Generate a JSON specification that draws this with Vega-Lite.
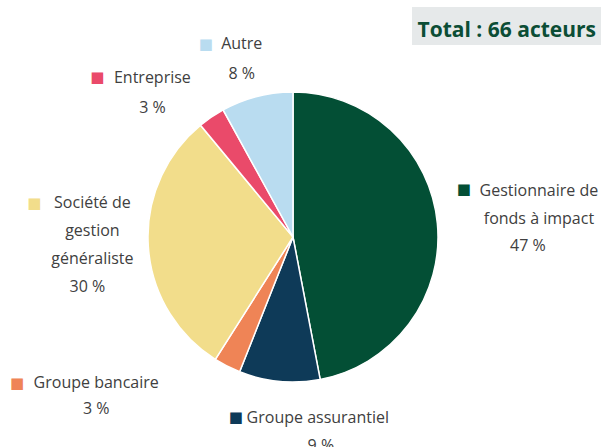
{
  "$schema": "https://vega.github.io/schema/vega-lite/v6.json",
  "width": 586,
  "height": 420,
  "autosize": {"type": "none"},
  "padding": {"left": 0, "top": 27, "right": 17, "bottom": 0},
  "background": "white",
  "config": {
    "view": {"stroke": null},
    "text": {"lineBreak": "\n", "font": "Open Sans", "fontSize": 16, "color": "#404040", "lineHeight": 28},
    "locale": {"number": {"decimal": ",", "thousands": " ", "grouping": [3], "currency": ["", " €"], "percent": " %"}}
  },
  "layer": [
    {
      "data": {"values": [
        {"cat": "Gestionnaire de\nfonds à impact", "share": 0.47},
        {"cat": "Groupe assurantiel", "share": 0.09},
        {"cat": "Groupe bancaire", "share": 0.03},
        {"cat": "Société de\ngestion\ngénéraliste", "share": 0.30},
        {"cat": "Entreprise", "share": 0.03},
        {"cat": "Autre", "share": 0.08}
      ]},
      "transform": [{"window": [{"op": "row_number", "as": "idx"}]}],
      "encoding": {
        "theta": {"field": "share", "type": "quantitative", "stack": true},
        "order": {"field": "idx", "type": "quantitative"}
      },
      "layer": [
        {
          "mark": {"type": "arc", "outerRadius": 145, "stroke": "white", "strokeWidth": 1.5},
          "encoding": {
            "color": {"field": "cat", "type": "nominal", "legend": null,
              "scale": {"domain": ["Gestionnaire de\nfonds à impact", "Groupe assurantiel", "Groupe bancaire", "Société de\ngestion\ngénéraliste", "Entreprise", "Autre"],
                        "range": ["#034f35", "#0e3a58", "#ef8456", "#f2dd8b", "#ea4a6a", "#b9dcf0"]}}
          }
        },
        {"mark": {"type": "text", "radius": 240, "dx": -68, "dy": -25, "align": "center", "baseline": "middle", "font": "DejaVu Sans", "fontSize": 15},
         "encoding": {"color": {"field": "cat", "type": "nominal", "legend": null}, "text": {"condition": {"test": "datum.idx===1", "value": "■"}, "value": ""}}},
        {"mark": {"type": "text", "radius": 240, "dx": 7, "dy": -18, "align": "center", "baseline": "alphabetic"},
         "encoding": {"text": {"condition": {"test": "datum.idx===1", "field": "cat"}, "value": ""}}},
        {"mark": {"type": "text", "radius": 240, "dx": -4, "dy": 37, "align": "center", "baseline": "alphabetic"},
         "encoding": {"text": {"condition": {"test": "datum.idx===1", "field": "share", "type": "quantitative", "format": ".0%"}, "value": ""}}},

        {"mark": {"type": "text", "radius": 193, "dx": -39, "dy": -12, "align": "center", "baseline": "middle", "font": "DejaVu Sans", "fontSize": 15},
         "encoding": {"color": {"field": "cat", "type": "nominal", "legend": null}, "text": {"condition": {"test": "datum.idx===2", "value": "■"}, "value": ""}}},
        {"mark": {"type": "text", "radius": 193, "dx": 43, "dy": -6, "align": "center", "baseline": "alphabetic"},
         "encoding": {"text": {"condition": {"test": "datum.idx===2", "field": "cat"}, "value": ""}}},
        {"mark": {"type": "text", "radius": 193, "dx": 46, "dy": 22, "align": "center", "baseline": "alphabetic"},
         "encoding": {"text": {"condition": {"test": "datum.idx===2", "field": "share", "type": "quantitative", "format": ".0%"}, "value": ""}}},

        {"mark": {"type": "text", "radius": 200, "dx": -185, "dy": -32, "align": "center", "baseline": "middle", "font": "DejaVu Sans", "fontSize": 15},
         "encoding": {"color": {"field": "cat", "type": "nominal", "legend": null}, "text": {"condition": {"test": "datum.idx===3", "value": "■"}, "value": ""}}},
        {"mark": {"type": "text", "radius": 200, "dx": -106, "dy": -27, "align": "center", "baseline": "alphabetic"},
         "encoding": {"text": {"condition": {"test": "datum.idx===3", "field": "cat"}, "value": ""}}},
        {"mark": {"type": "text", "radius": 200, "dx": -106, "dy": -1, "align": "center", "baseline": "alphabetic"},
         "encoding": {"text": {"condition": {"test": "datum.idx===3", "field": "share", "type": "quantitative", "format": ".0%"}, "value": ""}}},

        {"mark": {"type": "text", "radius": 208, "dx": -51, "dy": -47, "align": "center", "baseline": "middle", "font": "DejaVu Sans", "fontSize": 15},
         "encoding": {"color": {"field": "cat", "type": "nominal", "legend": null}, "text": {"condition": {"test": "datum.idx===4", "value": "■"}, "value": ""}}},
        {"mark": {"type": "text", "radius": 208, "dx": 7, "dy": -42, "align": "center", "baseline": "alphabetic"},
         "encoding": {"text": {"condition": {"test": "datum.idx===4", "field": "cat"}, "value": ""}}},
        {"mark": {"type": "text", "radius": 208, "dx": 2, "dy": 42, "align": "center", "baseline": "alphabetic"},
         "encoding": {"text": {"condition": {"test": "datum.idx===4", "field": "share", "type": "quantitative", "format": ".0%"}, "value": ""}}},

        {"mark": {"type": "text", "radius": 195, "dx": -86, "dy": 1, "align": "center", "baseline": "middle", "font": "DejaVu Sans", "fontSize": 15},
         "encoding": {"color": {"field": "cat", "type": "nominal", "legend": null}, "text": {"condition": {"test": "datum.idx===5", "value": "■"}, "value": ""}}},
        {"mark": {"type": "text", "radius": 195, "dx": -31, "dy": 7, "align": "center", "baseline": "alphabetic"},
         "encoding": {"text": {"condition": {"test": "datum.idx===5", "field": "cat"}, "value": ""}}},
        {"mark": {"type": "text", "radius": 195, "dx": -31, "dy": 37, "align": "center", "baseline": "alphabetic"},
         "encoding": {"text": {"condition": {"test": "datum.idx===5", "field": "share", "type": "quantitative", "format": ".0%"}, "value": ""}}},

        {"mark": {"type": "text", "radius": 182, "dx": -42, "dy": -17, "align": "center", "baseline": "middle", "font": "DejaVu Sans", "fontSize": 15},
         "encoding": {"color": {"field": "cat", "type": "nominal", "legend": null}, "text": {"condition": {"test": "datum.idx===6", "value": "■"}, "value": ""}}},
        {"mark": {"type": "text", "radius": 182, "dx": -6, "dy": -12, "align": "center", "baseline": "alphabetic"},
         "encoding": {"text": {"condition": {"test": "datum.idx===6", "field": "cat"}, "value": ""}}},
        {"mark": {"type": "text", "radius": 182, "dx": -6, "dy": 18, "align": "center", "baseline": "alphabetic"},
         "encoding": {"text": {"condition": {"test": "datum.idx===6", "field": "share", "type": "quantitative", "format": ".0%"}, "value": ""}}}
      ]
    },
    {
      "data": {"values": [{"label": "Total : 66 acteurs"}]},
      "layer": [
        {"mark": {"type": "rect", "color": "#e6e9ea"},
         "encoding": {"x": {"value": 412}, "x2": {"value": 601}, "y": {"value": -20}, "y2": {"value": 18}}},
        {"mark": {"type": "text", "align": "right", "baseline": "alphabetic", "font": "Open Sans", "fontSize": 21, "fontWeight": "bold", "color": "#0b4d35"},
         "encoding": {"x": {"value": 596}, "y": {"value": 10}, "text": {"field": "label"}}}
      ]
    }
  ]
}
